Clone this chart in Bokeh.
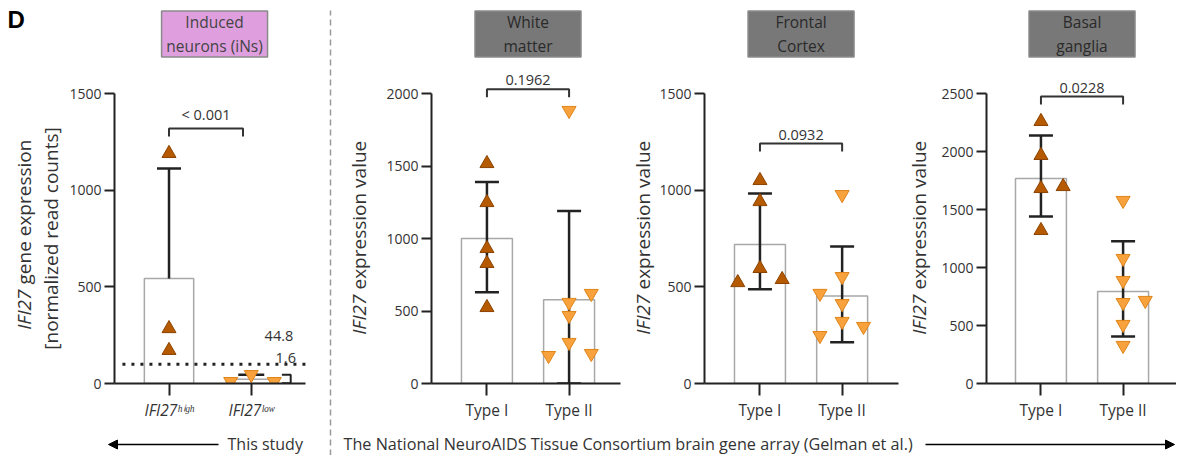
import math
from bokeh.plotting import figure
from bokeh.layouts import row, column
from bokeh.models import Range1d, FixedTicker, Arrow, NormalHead
from bokeh.core.properties import value
from bokeh.embed import file_html
from bokeh.resources import INLINE

FONT = "Open Sans"

# ---------------- data ----------------
# Panel 1: induced neurons (this study)
ins_header = "Induced\nneurons (iNs)"
ins_tick_labels = ["IFI27ʰⁱᵍʰ", "IFI27ˡᵒʷ"]
ins_high_values = [1190, 284, 171]
ins_low_values = [10, 46, 10]
ins_means = [543, 22]
ins_upper = [1112, 44.8]
ins_pvalue = "< 0.001"
ins_threshold = 100
ins_note_hi = "44.8"
ins_note_lo = "1.6"
ins_low_range = [1.6, 44.8]

# Panels 2-4: NNTC brain gene array
type_labels = ["Type I", "Type II"]

wm_header = "White\nmatter"
wm_type1 = [1517, 1248, 931, 828, 524]
wm_type2 = [1883, 621, 559, 469, 283, 193, 207]
wm_means = [1000, 578]
wm_lower = [630, 0]
wm_upper = [1390, 1190]
wm_pvalue = "0.1962"

fc_header = "Frontal\nCortex"
fc_type1 = [1050, 941, 595, 522, 538]
fc_type2 = [977, 553, 466, 413, 321, 295, 248]
fc_means = [719, 452]
fc_lower = [488, 214]
fc_upper = [983, 709]
fc_pvalue = "0.0932"

bg_header = "Basal\nganglia"
bg_type1 = [2259, 1966, 1681, 1698, 1319]
bg_type2 = [1578, 1078, 888, 698, 716, 509, 328]
bg_means = [1767, 793]
bg_lower = [1440, 405]
bg_upper = [2138, 1226]
bg_pvalue = "0.0228"

# horizontal jitter of the individual points (in category units)
ins_high_jit = [0, 0, 0]
ins_low_jit = [-0.25, 0, 0.28]
wm_jit1 = [0, 0, 0, 0, 0]
wm_jit2 = [0, 0.27, 0, 0, 0, -0.25, 0.27]
fc_jit1 = [0, 0, 0, -0.27, 0.27]
fc_jit2 = [0, 0, -0.27, 0, 0, 0.26, -0.27]
bg_jit1 = [0, 0, 0, 0.27, 0]
bg_jit2 = [0, 0, 0, 0, 0.27, 0, 0]

bottom_left_text = "This study"
bottom_right_text = "The National NeuroAIDS Tissue Consortium brain gene array (Gelman et al.)"

# ---------------- styles / layout ----------------
UP_FILL, UP_LINE = "#b65a02", "#8c4300"
DN_FILL, DN_LINE = "#f8a23d", "#e08418"
AX = "#222222"
TXT = "#333333"
PINK = "#df9fdf"
GREY = "#787878"
PX_UNIT = 83.0
FRAME_H = 383.0      # frame spans page y 0..383
AXIS_PX = 290.0      # pixels from 0 to the top tick
FIG_H = 430
BORDER_L = 46
BORDER_B = 47


def make_panel(width, frame_w, top, xs0, xbound, tick_labels):
    y_end = top * FRAME_H / AXIS_PX
    x_end = xs0 + frame_w / PX_UNIT
    p = figure(width=width, height=FIG_H, x_range=Range1d(xs0, x_end),
               y_range=Range1d(0, y_end), output_backend="svg",
               toolbar_location=None, min_border_left=BORDER_L,
               min_border_right=0, min_border_top=0, min_border_bottom=BORDER_B)
    p.outline_line_color = None
    p.grid.visible = False
    p.background_fill_color = "white"
    p.border_fill_color = "white"
    ya = p.yaxis[0]
    ya.bounds = (0, top)
    ya.ticker = FixedTicker(ticks=list(range(0, top + 1, 500)))
    xa = p.xaxis[0]
    xa.bounds = (xs0, xbound if xbound is not None else x_end)
    xa.ticker = FixedTicker(ticks=[1, 2])
    xa.major_label_overrides = {1: tick_labels[0], 2: tick_labels[1]}
    for a in (xa, ya):
        a.axis_line_width = 2
        a.axis_line_color = AX
        a.major_tick_line_width = 2
        a.major_tick_line_color = AX
        a.major_tick_in = 0
        a.minor_tick_line_color = None
        a.major_label_text_font = FONT
        a.major_label_text_color = TXT
    ya.major_tick_out = 10
    ya.major_label_standoff = 3
    ya.major_label_text_font_size = "14px"
    xa.major_tick_out = 12
    xa.major_label_standoff = 3
    xa.major_label_text_font_size = "15.5px"
    return p


def yv(top, page_y):
    return (383 - page_y) * top / AXIS_PX


def header(p, top, hx, text, fill, tcolor):
    hy = yv(top, 33.5)
    p.rect(x=[hx], y=[hy], width=106, height=46, width_units="screen",
           height_units="screen", fill_color=fill, line_color="#8a8a8a", line_width=1.5)
    p.text(x=[hx], y=[hy], text=[text], text_align="center", text_baseline="middle",
           text_font=value(FONT), text_font_size="15.5px", text_color=tcolor,
           text_line_height=1.12)


def bracket(p, top, x1, x2, level, label):
    d = 8 * top / AXIS_PX
    p.line(x=[x1, x1, x2, x2], y=[level - d, level, level, level - d],
           line_width=2, line_color=TXT)
    p.text(x=[(x1 + x2) / 2], y=[level], text=[label], text_align="center",
           text_baseline="bottom", y_offset=-4, text_font=value(FONT),
           text_font_size="14.5px", text_color=TXT)


def bars(p, means, width=0.62):
    p.vbar(x=[1, 2], top=means, bottom=0, width=width, fill_color="white",
           line_color="#a8a8a8", line_width=1.5)


def errbars(p, xs, lo, hi, caps_lo=True, cap=24):
    p.segment(x0=xs, y0=lo, x1=xs, y1=hi, line_width=2.5, line_color=AX)
    p.scatter(x=xs, y=hi, marker="dash", size=cap, line_width=2.5, line_color=AX)
    if caps_lo:
        p.scatter(x=xs, y=lo, marker="dash", size=cap, line_width=2.5, line_color=AX)


def points(p, base, vals, jit, up):
    xs = [base + j for j in jit]
    if up:
        p.scatter(x=xs, y=vals, marker="triangle", size=14, fill_color=UP_FILL,
                  line_color=UP_LINE, line_width=1)
    else:
        p.scatter(x=xs, y=vals, marker="inverted_triangle", size=14, fill_color=DN_FILL,
                  line_color=DN_LINE, line_width=1)


# ---------- panel 1 ----------
t1 = 1500
p1 = make_panel(260, 214, t1, 0.337, 2.662, ins_tick_labels)
p1.xaxis.major_label_text_font_style = "italic"
header(p1, t1, 1.554, ins_header, PINK, "#444444")
bars(p1, ins_means, width=0.60)
p1.segment(x0=[0.337 + 8 / PX_UNIT], y0=[ins_threshold], x1=[2.662], y1=[ins_threshold],
           line_width=3, line_color=AX, line_dash="3 6")
errbars(p1, [1], [ins_means[0]], [ins_upper[0]], caps_lo=False)
errbars(p1, [2], [ins_means[1]], [ins_upper[1]], caps_lo=False, cap=26)
points(p1, 1, ins_high_values, ins_high_jit, True)
points(p1, 2, ins_low_values, ins_low_jit, False)
bracket(p1, t1, 1, 1.9, 1319, ins_pvalue)
bx0, bx1 = 2.373, 2.48
p1.line(x=[bx0, bx1, bx1, bx0], y=[ins_low_range[1], ins_low_range[1], ins_low_range[0], ins_low_range[0]],
        line_width=2, line_color=AX)
p1.text(x=[2.337], y=[yv(t1, 335)], text=[ins_note_hi], text_align="center", text_baseline="middle",
        text_font=value(FONT), text_font_size="14.5px", text_color=TXT)
p1.text(x=[2.42], y=[yv(t1, 357)], text=[ins_note_lo], text_align="center", text_baseline="middle",
        text_font=value(FONT), text_font_size="14.5px", text_color=TXT)

# ---------- panels 2-4 ----------
def region_panel(width, frame_w, top, xs0, xbound, hdr, g1, g2, j1, j2, means, lo, hi, pv, level):
    p = make_panel(width, frame_w, top, xs0, xbound, type_labels)
    header(p, top, 1.5, hdr, GREY, "#2a2a2a")
    bars(p, means)
    errbars(p, [1, 2], lo, hi)
    points(p, 1, g1, j1, True)
    points(p, 2, g2, j2, False)
    bracket(p, top, 1, 2, level, pv)
    return p

p2 = region_panel(238, 192, 2000, 0.325, 2.626, wm_header, wm_type1, wm_type2, wm_jit1, wm_jit2,
                  wm_means, wm_lower, wm_upper, wm_pvalue, 2030)
p3 = region_panel(246, 200, 1500, 0.325, 2.687, fc_header, fc_type1, fc_type2, fc_jit1, fc_jit2,
                  fc_means, fc_lower, fc_upper, fc_pvalue, 1241)
p4 = region_panel(238, 192, 2500, 0.337, None, bg_header, bg_type1, bg_type2, bg_jit1, bg_jit2,
                  bg_means, bg_lower, bg_upper, bg_pvalue, 2474)


# ---------- decoration strips ----------
def strip(w, h, bottom=0):
    s = figure(width=w, height=h + bottom, x_range=Range1d(0, w), y_range=Range1d(0, h),
               output_backend="svg", toolbar_location=None, min_border=0,
               min_border_bottom=bottom, x_axis_location=None, y_axis_location=None)
    s.grid.visible = False
    s.outline_line_color = None
    s.background_fill_color = "white"
    s.border_fill_color = "white"
    return s


YL = "19px"


def ylabel(s, x, y_split, rest):
    s.text(x=[x], y=[y_split], text=["IFI27"], angle=math.pi / 2, text_align="right",
           text_baseline="middle", text_font=value(FONT), text_font_style="italic",
           text_font_size=YL, text_color=TXT)
    s.text(x=[x], y=[y_split + 5], text=[rest], angle=math.pi / 2, text_align="left",
           text_baseline="middle", text_font=value(FONT), text_font_size=YL,
           text_color=TXT)

# panel-row strips: frame covers page y 0..383, strip y = 383 - page_y
SH = 383
s1 = strip(66, SH, BORDER_B)
s1.text(x=[7], y=[SH - 5], text=["D"], text_align="left", text_baseline="top",
        text_font=value("Liberation Sans"), text_font_style="bold", text_font_size="24px",
        text_color="black")
ylabel(s1, 23, SH - 289, "gene expression")
s1.text(x=[50], y=[SH - 238], text=["[normalized read counts]"], angle=math.pi / 2,
        text_align="center", text_baseline="middle", text_font=value(FONT),
        text_font_size=YL, text_color=TXT)

s2 = strip(49, SH, BORDER_B)
ylabel(s2, 24, SH - 294, "expression value")
s3 = strip(35, SH, BORDER_B)
ylabel(s3, 21.5, SH - 294, "expression value")
s4 = strip(36, SH, BORDER_B)
ylabel(s4, 16, SH - 294, "expression value")

# separator (page y 0..455)
sep = strip(8, 455)
sep.segment(x0=[4], y0=[0], x1=[4], y1=[445], line_color="#9a9a9a", line_width=1.5,
            line_dash="6 4")

# bottom strips (page y 430..455), strip y = 455 - page_y
bl = strip(326, 25)
bl.text(x=[227], y=[11.5], text=[bottom_left_text], text_align="left", text_baseline="middle",
        text_font=value(FONT), text_font_size="16px", text_color=TXT)
bl.add_layout(Arrow(x_start=218, y_start=11, x_end=108, y_end=11, line_width=1.5,
                    line_color="black",
                    end=NormalHead(size=9, fill_color="black", line_color="black")))

br = strip(842, 25)
br.text(x=[9], y=[11.5], text=[bottom_right_text], text_align="left", text_baseline="middle",
        text_font=value(FONT), text_font_size="16.2px", text_color=TXT)
br.add_layout(Arrow(x_start=591, y_start=11, x_end=840, y_end=11, line_width=1.5,
                    line_color="black",
                    end=NormalHead(size=9, fill_color="black", line_color="black")))

left_block = column(row(s1, p1), bl)
right_block = column(row(s2, p2, s3, p3, s4, p4), br)
layout = row(left_block, sep, right_block)

open("out.html", "w").write(file_html(layout, INLINE))
